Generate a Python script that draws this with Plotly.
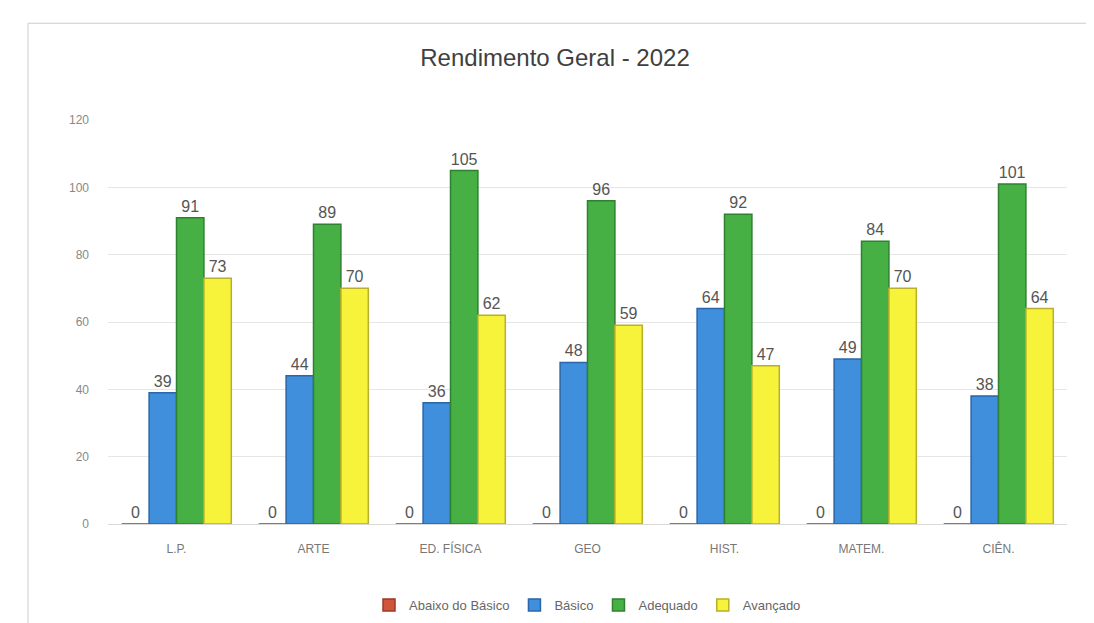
import plotly.graph_objects as go

categories = ["L.P.", "ARTE", "ED. FÍSICA", "GEO", "HIST.", "MATEM.", "CIÊN."]
abaixo = [0, 0, 0, 0, 0, 0, 0]
basico = [39, 44, 36, 48, 64, 49, 38]
adequado = [91, 89, 105, 96, 92, 84, 101]
avancado = [73, 70, 62, 59, 47, 70, 64]

series = [
    ("Abaixo do Básico", abaixo, "#d0553a", "#9c3a25"),
    ("Básico", basico, "#3f8fdc", "#2a66a8"),
    ("Adequado", adequado, "#46b044", "#2f8030"),
    ("Avançado", avancado, "#f7f23a", "#b8b02a"),
]

fig = go.Figure()
for name, vals, col, edge in series:
    fig.add_trace(go.Bar(
        x=categories, y=vals, name=name,
        marker=dict(color=col, line=dict(color=edge, width=1.5)),
        text=[str(v) for v in vals], textposition="outside",
        textfont=dict(size=16, color="#555555", family="Liberation Sans"),
        cliponaxis=False,
    ))

L, R, T, B = 100, 35, 112, 106
W, H = 1094, 623
pw, ph = W - L - R, H - T - B

fig.update_layout(
    width=W, height=H,
    paper_bgcolor="white", plot_bgcolor="white",
    barmode="group", bargap=0.2, bargroupgap=0.0,
    title=dict(text="Rendimento Geral - 2022", x=0.5, y=(H - 50) / H, xanchor="center", yanchor="middle",
               font=dict(size=24, color="#404040", family="Liberation Sans")),
    margin=dict(l=L, r=R, t=T, b=B),
    font=dict(family="Liberation Sans", color="#666666", size=12),
    legend=dict(orientation="h", x=0.5, xanchor="center", y=-(598 - 16 - (H - B)) / ph, yanchor="top",
                font=dict(size=13, color="#666666"), traceorder="normal"),
    xaxis=dict(showgrid=False, tickfont=dict(size=12, color="#777777"),
               showline=True, linecolor="#d9d9d9", ticks="", ticklabelstandoff=14),
    yaxis=dict(range=[0, 120], dtick=20, showgrid=True, gridcolor="#e6e6e6",
               zeroline=False, tickfont=dict(size=12, color="#888888"), ticks="",
               ticklabelstandoff=18),
    shapes=[dict(type="rect", xref="paper", yref="paper",
                 x0=(20 - L) / pw, x1=(1086 - L) / pw,
                 y0=((H - B) - 620) / ph, y1=((H - B) - 15) / ph,
                 line=dict(color="#cccccc", width=1))],
)

fig.write_html("out.html")
